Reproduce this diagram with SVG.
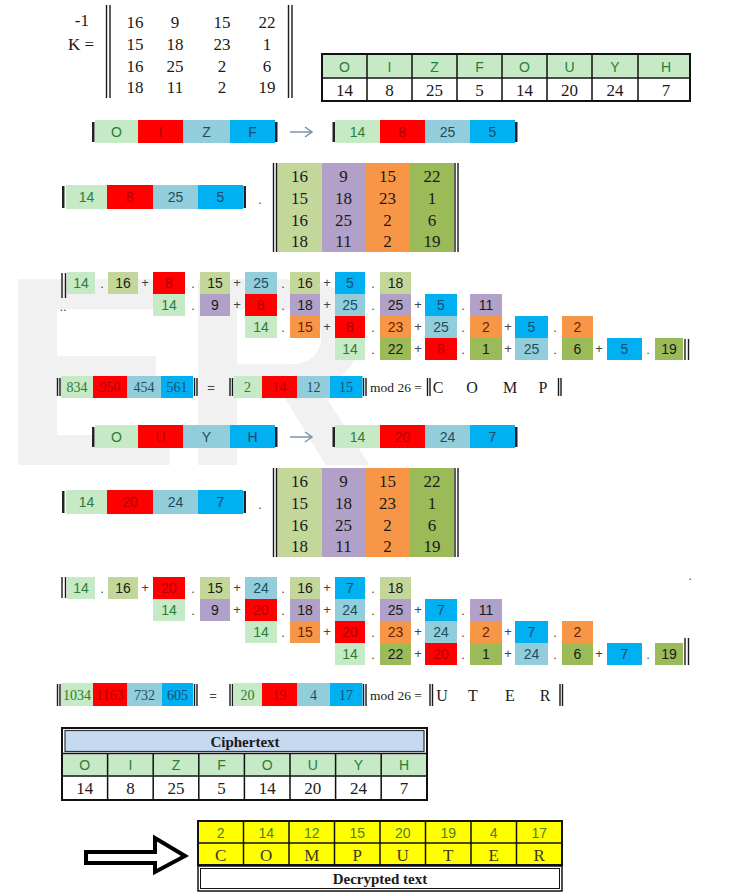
<svg xmlns="http://www.w3.org/2000/svg" width="751" height="892" viewBox="0 0 751 892">
<style>
.lg{fill:#c6e9c6}.rd{fill:#ff0000}.lb{fill:#92cddc}.bl{fill:#00b0f0}.ol{fill:#c4d79b}.pu{fill:#b1a0c7}.or{fill:#f79646}.gr{fill:#9bbb59}.yl{fill:#ffff00}
.ln{stroke:#1a1a1a;stroke-width:1.4;fill:none}
.bk{fill:#222}
text{text-anchor:middle}
.s{font-family:"Liberation Sans",Arial,sans-serif;font-size:14px}
.f{font-family:"Liberation Serif","Times New Roman",serif;font-size:17px}
.n{font-family:"Liberation Serif","Times New Roman",serif;font-size:14px}
.tg{fill:#2b7d36}.tr{fill:#b00000}.tb{fill:#1d4e5c}.td{fill:#1e4a70}.tk{fill:#1a1a1a}.to{fill:#6a1f00}
.op{font-family:"Liberation Sans",Arial,sans-serif;font-size:13px;fill:#444}
.wm{font-family:"Liberation Sans",Arial,sans-serif;font-weight:bold;font-size:270px;fill:#f1f1f1;text-anchor:start}
</style>
<text class="wm" x="0" y="465">ER</text>

<g id="matrix-k">
<text class="f tk" x="89" y="26" style="text-anchor:end">-1</text>
<text class="f tk" x="94" y="50" style="text-anchor:end">K =</text>
<path class="ln" d="M106.5,5V98M110,5V98M288.5,5V98M292,5V98"/>
<text class="f tk" x="135" y="28">16</text><text class="f tk" x="175" y="28">9</text><text class="f tk" x="222" y="28">15</text><text class="f tk" x="267" y="28">22</text>
<text class="f tk" x="135" y="50">15</text><text class="f tk" x="175" y="50">18</text><text class="f tk" x="222" y="50">23</text><text class="f tk" x="267" y="50">1</text>
<text class="f tk" x="135" y="72">16</text><text class="f tk" x="175" y="72">25</text><text class="f tk" x="222" y="72">2</text><text class="f tk" x="267" y="72">6</text>
<text class="f tk" x="135" y="93">18</text><text class="f tk" x="175" y="93">11</text><text class="f tk" x="222" y="93">2</text><text class="f tk" x="267" y="93">19</text>
</g>

<g id="table-ciphertext-top">
<rect x="322" y="54" width="368" height="47" fill="#fff" stroke="#111" stroke-width="2"/>
<rect class="lg" x="323" y="55" width="366" height="22"/>
<path d="M322,78H690M367,54V101M412,54V101M457,54V101M502,54V101M547,54V101M592,54V101M638,54V101" stroke="#111" stroke-width="1.5"/>
<text class="s tg" x="344.5" y="72">O</text><text class="s tg" x="389.5" y="72">I</text><text class="s tg" x="434.5" y="72">Z</text><text class="s tg" x="479.5" y="72">F</text><text class="s tg" x="524.5" y="72">O</text><text class="s tg" x="569.5" y="72">U</text><text class="s tg" x="615" y="72">Y</text><text class="s tg" x="666" y="72">H</text>
<text class="f tk" x="344.5" y="96">14</text><text class="f tk" x="389.5" y="96">8</text><text class="f tk" x="434.5" y="96">25</text><text class="f tk" x="479.5" y="96">5</text><text class="f tk" x="524.5" y="96">14</text><text class="f tk" x="569.5" y="96">20</text><text class="f tk" x="615" y="96">24</text><text class="f tk" x="666" y="96">7</text>
</g>

<g id="vector-oizf">
<rect class="bk" x="92" y="122" width="2.5" height="20"/>
<rect class="lg" x="95" y="120" width="43" height="23"/><rect class="rd" x="138" y="120" width="45" height="23"/><rect class="lb" x="183" y="120" width="47" height="23"/><rect class="bl" x="230" y="120" width="45" height="23"/>
<rect class="bk" x="275" y="122" width="2.5" height="20"/>
<text class="s tg" x="116.5" y="137">O</text><text class="s tr" x="160.5" y="137">I</text><text class="s tb" x="206.5" y="137">Z</text><text class="s td" x="252.5" y="137">F</text>
</g>
<g id="vector-14-8-25-5">
<rect class="bk" x="332.5" y="122" width="2.5" height="20"/>
<rect class="lg" x="335" y="120" width="45" height="23"/><rect class="rd" x="380" y="120" width="45" height="23"/><rect class="lb" x="425" y="120" width="45" height="23"/><rect class="bl" x="470" y="120" width="45" height="23"/>
<rect class="bk" x="515" y="122" width="2.5" height="20"/>
<text class="s tg" x="357.5" y="137">14</text><text class="s tr" x="402.5" y="137">8</text><text class="s tb" x="447.5" y="137">25</text><text class="s td" x="492.5" y="137">5</text>
</g>

<g id="vector-row3">
<rect class="bk" x="62" y="186" width="2.5" height="22"/>
<rect class="lg" x="66" y="185" width="41" height="24"/><rect class="rd" x="107" y="185" width="46" height="24"/><rect class="lb" x="153" y="185" width="45" height="24"/><rect class="bl" x="198" y="185" width="45" height="24"/>
<rect class="bk" x="243.5" y="186" width="2.5" height="22"/>
<text class="s tg" x="86.5" y="202">14</text><text class="s tr" x="130" y="202">8</text><text class="s tb" x="175.5" y="202">25</text><text class="s td" x="220.5" y="202">5</text>
<text class="op" x="260" y="204">.</text>
</g>
<g id="matrix-row3">
<rect class="ol" x="277" y="163" width="45" height="89"/><rect class="pu" x="322" y="163" width="43" height="89"/><rect class="or" x="365" y="163" width="45" height="89"/><rect class="gr" x="410" y="163" width="44" height="89"/>
<path class="ln" d="M273.5,163V252M276.5,163V252M455,163V252M458,163V252"/>
<text class="f tk" x="299.5" y="182">16</text><text class="f tk" x="343.5" y="182">9</text><text class="f tk" x="387.5" y="182">15</text><text class="f tk" x="432" y="182">22</text>
<text class="f tk" x="299.5" y="204">15</text><text class="f tk" x="343.5" y="204">18</text><text class="f tk" x="387.5" y="204">23</text><text class="f tk" x="432" y="204">1</text>
<text class="f tk" x="299.5" y="226">16</text><text class="f tk" x="343.5" y="226">25</text><text class="f tk" x="387.5" y="226">2</text><text class="f tk" x="432" y="226">6</text>
<text class="f tk" x="299.5" y="247">18</text><text class="f tk" x="343.5" y="247">11</text><text class="f tk" x="387.5" y="247">2</text><text class="f tk" x="432" y="247">19</text>
</g>

<g id="expansion-1">
<path class="ln" d="M62,273V298M65.5,273V298M685,339V360M688.5,339V360"/>
<text class="op" x="63" y="311">..</text>
<rect class="lg" x="67" y="272" width="28" height="22"/><text class="s tg" x="81" y="288">14</text>
<text class="op" x="102" y="288">.</text>
<rect class="ol" x="108" y="272" width="30" height="22"/><text class="s tk" x="123" y="288">16</text>
<text class="op" x="145" y="287">+</text>
<rect class="rd" x="153" y="272" width="32" height="22"/><text class="s tr" x="169" y="288">8</text>
<text class="op" x="193" y="288">.</text>
<rect class="ol" x="200" y="272" width="30" height="22"/><text class="s tk" x="215" y="288">15</text>
<text class="op" x="237" y="287">+</text>
<rect class="lb" x="245" y="272" width="32" height="22"/><text class="s tb" x="261" y="288">25</text>
<text class="op" x="283" y="288">.</text>
<rect class="ol" x="290" y="272" width="30" height="22"/><text class="s tk" x="305" y="288">16</text>
<text class="op" x="327" y="287">+</text>
<rect class="bl" x="335" y="272" width="30" height="22"/><text class="s td" x="350" y="288">5</text>
<text class="op" x="373" y="288">.</text>
<rect class="ol" x="380" y="272" width="31" height="22"/><text class="s tk" x="395.5" y="288">18</text>

<rect class="lg" x="153" y="294" width="32" height="22"/><text class="s tg" x="169" y="310">14</text>
<text class="op" x="193" y="310">.</text>
<rect class="pu" x="200" y="294" width="30" height="22"/><text class="s tk" x="215" y="310">9</text>
<text class="op" x="237" y="309">+</text>
<rect class="rd" x="245" y="294" width="32" height="22"/><text class="s tr" x="261" y="310">8</text>
<text class="op" x="283" y="310">.</text>
<rect class="pu" x="290" y="294" width="30" height="22"/><text class="s tk" x="305" y="310">18</text>
<text class="op" x="327" y="309">+</text>
<rect class="lb" x="335" y="294" width="30" height="22"/><text class="s tb" x="350" y="310">25</text>
<text class="op" x="373" y="310">.</text>
<rect class="pu" x="380" y="294" width="31" height="22"/><text class="s tk" x="395.5" y="310">25</text>
<text class="op" x="418" y="309">+</text>
<rect class="bl" x="425" y="294" width="32" height="22"/><text class="s td" x="441" y="310">5</text>
<text class="op" x="463" y="310">.</text>
<rect class="pu" x="470" y="294" width="32" height="22"/><text class="s tk" x="486" y="310">11</text>

<rect class="lg" x="245" y="316" width="32" height="22"/><text class="s tg" x="261" y="332">14</text>
<text class="op" x="283" y="332">.</text>
<rect class="or" x="290" y="316" width="30" height="22"/><text class="s to" x="305" y="332">15</text>
<text class="op" x="327" y="331">+</text>
<rect class="rd" x="335" y="316" width="30" height="22"/><text class="s tr" x="350" y="332">8</text>
<text class="op" x="373" y="332">.</text>
<rect class="or" x="380" y="316" width="31" height="22"/><text class="s to" x="395.5" y="332">23</text>
<text class="op" x="418" y="331">+</text>
<rect class="lb" x="425" y="316" width="32" height="22"/><text class="s tb" x="441" y="332">25</text>
<text class="op" x="463" y="332">.</text>
<rect class="or" x="470" y="316" width="32" height="22"/><text class="s to" x="486" y="332">2</text>
<text class="op" x="508" y="331">+</text>
<rect class="bl" x="515" y="316" width="33" height="22"/><text class="s td" x="531.5" y="332">5</text>
<text class="op" x="555" y="332">.</text>
<rect class="or" x="562" y="316" width="31" height="22"/><text class="s to" x="577.5" y="332">2</text>

<rect class="lg" x="335" y="338" width="30" height="22"/><text class="s tg" x="350" y="354">14</text>
<text class="op" x="373" y="354">.</text>
<rect class="gr" x="380" y="338" width="31" height="22"/><text class="s tk" x="395.5" y="354">22</text>
<text class="op" x="418" y="353">+</text>
<rect class="rd" x="425" y="338" width="32" height="22"/><text class="s tr" x="441" y="354">8</text>
<text class="op" x="463" y="354">.</text>
<rect class="gr" x="470" y="338" width="32" height="22"/><text class="s tk" x="486" y="354">1</text>
<text class="op" x="508" y="353">+</text>
<rect class="lb" x="515" y="338" width="33" height="22"/><text class="s tb" x="531.5" y="354">25</text>
<text class="op" x="555" y="354">.</text>
<rect class="gr" x="562" y="338" width="31" height="22"/><text class="s tk" x="577.5" y="354">6</text>
<text class="op" x="599" y="353">+</text>
<rect class="bl" x="607" y="338" width="35" height="22"/><text class="s td" x="624.5" y="354">5</text>
<text class="op" x="648" y="354">.</text>
<rect class="gr" x="655" y="338" width="28" height="22"/><text class="s tk" x="669" y="354">19</text>
</g>

<g id="result-1">
<path class="ln" d="M57.5,378V396M60,378V396M194.5,378V396M197,378V396M230,378V396M232.5,378V396M363.5,378V396M366,378V396M427.5,378V396M430,378V396M558.5,378V396M561,378V396"/>
<rect class="lg" x="61" y="376" width="32" height="22"/><rect class="rd" x="93" y="376" width="34" height="22"/><rect class="lb" x="127" y="376" width="34" height="22"/><rect class="bl" x="161" y="376" width="32" height="22"/>
<text class="n tg" x="77" y="392">834</text><text class="n tr" x="110" y="392">950</text><text class="n tb" x="144" y="392">454</text><text class="n td" x="177" y="392">561</text>
<text class="op" x="211" y="392">=</text>
<rect class="lg" x="233.5" y="376" width="28.5" height="22"/><rect class="rd" x="262" y="376" width="35" height="22"/><rect class="lb" x="297" y="376" width="33" height="22"/><rect class="bl" x="330" y="376" width="32.5" height="22"/>
<text class="n tg" x="247.5" y="392">2</text><text class="n tr" x="279.5" y="392">14</text><text class="n tb" x="313.5" y="392">12</text><text class="n td" x="346" y="392">15</text>
<text class="n tk" x="370" y="392" style="font-size:13.5px;text-anchor:start">mod 26 =</text>
<text class="f tk" x="438" y="393" style="font-size:16px">C</text><text class="f tk" x="472" y="393" style="font-size:16px">O</text><text class="f tk" x="510" y="393" style="font-size:16px">M</text><text class="f tk" x="543" y="393" style="font-size:16px">P</text>
</g>

<g id="vector-ouyh">
<rect class="bk" x="92" y="427" width="2.5" height="20"/>
<rect class="lg" x="95" y="425" width="43" height="23"/><rect class="rd" x="138" y="425" width="45" height="23"/><rect class="lb" x="183" y="425" width="47" height="23"/><rect class="bl" x="230" y="425" width="45" height="23"/>
<rect class="bk" x="275" y="427" width="2.5" height="20"/>
<text class="s tg" x="116.5" y="442">O</text><text class="s tr" x="160.5" y="442">U</text><text class="s tb" x="206.5" y="442">Y</text><text class="s td" x="252.5" y="442">H</text>
</g>
<g id="vector-14-20-24-7">
<rect class="bk" x="332.5" y="427" width="2.5" height="20"/>
<rect class="lg" x="335" y="425" width="45" height="23"/><rect class="rd" x="380" y="425" width="45" height="23"/><rect class="lb" x="425" y="425" width="45" height="23"/><rect class="bl" x="470" y="425" width="45" height="23"/>
<rect class="bk" x="515" y="427" width="2.5" height="20"/>
<text class="s tg" x="357.5" y="442">14</text><text class="s tr" x="402.5" y="442">20</text><text class="s tb" x="447.5" y="442">24</text><text class="s td" x="492.5" y="442">7</text>
</g>

<g id="connectors">
<path d="M290,132H312M305,127L312,132L305,137" stroke="#7f92ab" stroke-width="1.5" fill="none"/>
<path d="M290,437H312M305,432L312,437L305,442" stroke="#7f92ab" stroke-width="1.5" fill="none"/>
<path d="M86,852H155V838L185,856L155,872V863H86Z" fill="#fff" stroke="#000" stroke-width="4" stroke-linejoin="miter"/>
</g>

<g id="vector-row7">
<rect class="bk" x="62" y="491" width="2.5" height="22"/>
<rect class="lg" x="66" y="490" width="41" height="24"/><rect class="rd" x="107" y="490" width="46" height="24"/><rect class="lb" x="153" y="490" width="45" height="24"/><rect class="bl" x="198" y="490" width="45" height="24"/>
<rect class="bk" x="243.5" y="491" width="2.5" height="22"/>
<text class="s tg" x="86.5" y="507">14</text><text class="s tr" x="130" y="507">20</text><text class="s tb" x="175.5" y="507">24</text><text class="s td" x="220.5" y="507">7</text>
<text class="op" x="260" y="509">.</text>
</g>
<g id="matrix-row7">
<rect class="ol" x="277" y="468" width="45" height="89"/><rect class="pu" x="322" y="468" width="43" height="89"/><rect class="or" x="365" y="468" width="45" height="89"/><rect class="gr" x="410" y="468" width="44" height="89"/>
<path class="ln" d="M273.5,468V557M276.5,468V557M455,468V557M458,468V557"/>
<text class="f tk" x="299.5" y="487">16</text><text class="f tk" x="343.5" y="487">9</text><text class="f tk" x="387.5" y="487">15</text><text class="f tk" x="432" y="487">22</text>
<text class="f tk" x="299.5" y="509">15</text><text class="f tk" x="343.5" y="509">18</text><text class="f tk" x="387.5" y="509">23</text><text class="f tk" x="432" y="509">1</text>
<text class="f tk" x="299.5" y="531">16</text><text class="f tk" x="343.5" y="531">25</text><text class="f tk" x="387.5" y="531">2</text><text class="f tk" x="432" y="531">6</text>
<text class="f tk" x="299.5" y="552">18</text><text class="f tk" x="343.5" y="552">11</text><text class="f tk" x="387.5" y="552">2</text><text class="f tk" x="432" y="552">19</text>
</g>

<g id="expansion-2">
<path class="ln" d="M62,577V598M65.5,577V598M685,638V665M688.5,638V665"/>
<text class="op" x="690" y="580">.</text>
<rect class="lg" x="67" y="577" width="28" height="22"/><text class="s tg" x="81" y="593">14</text>
<text class="op" x="102" y="593">.</text>
<rect class="ol" x="108" y="577" width="30" height="22"/><text class="s tk" x="123" y="593">16</text>
<text class="op" x="145" y="592">+</text>
<rect class="rd" x="153" y="577" width="32" height="22"/><text class="s tr" x="169" y="593">20</text>
<text class="op" x="193" y="593">.</text>
<rect class="ol" x="200" y="577" width="30" height="22"/><text class="s tk" x="215" y="593">15</text>
<text class="op" x="237" y="592">+</text>
<rect class="lb" x="245" y="577" width="32" height="22"/><text class="s tb" x="261" y="593">24</text>
<text class="op" x="283" y="593">.</text>
<rect class="ol" x="290" y="577" width="30" height="22"/><text class="s tk" x="305" y="593">16</text>
<text class="op" x="327" y="592">+</text>
<rect class="bl" x="335" y="577" width="30" height="22"/><text class="s td" x="350" y="593">7</text>
<text class="op" x="373" y="593">.</text>
<rect class="ol" x="380" y="577" width="31" height="22"/><text class="s tk" x="395.5" y="593">18</text>

<rect class="lg" x="153" y="599" width="32" height="22"/><text class="s tg" x="169" y="615">14</text>
<text class="op" x="193" y="615">.</text>
<rect class="pu" x="200" y="599" width="30" height="22"/><text class="s tk" x="215" y="615">9</text>
<text class="op" x="237" y="614">+</text>
<rect class="rd" x="245" y="599" width="32" height="22"/><text class="s tr" x="261" y="615">20</text>
<text class="op" x="283" y="615">.</text>
<rect class="pu" x="290" y="599" width="30" height="22"/><text class="s tk" x="305" y="615">18</text>
<text class="op" x="327" y="614">+</text>
<rect class="lb" x="335" y="599" width="30" height="22"/><text class="s tb" x="350" y="615">24</text>
<text class="op" x="373" y="615">.</text>
<rect class="pu" x="380" y="599" width="31" height="22"/><text class="s tk" x="395.5" y="615">25</text>
<text class="op" x="418" y="614">+</text>
<rect class="bl" x="425" y="599" width="32" height="22"/><text class="s td" x="441" y="615">7</text>
<text class="op" x="463" y="615">.</text>
<rect class="pu" x="470" y="599" width="32" height="22"/><text class="s tk" x="486" y="615">11</text>

<rect class="lg" x="245" y="621" width="32" height="22"/><text class="s tg" x="261" y="637">14</text>
<text class="op" x="283" y="637">.</text>
<rect class="or" x="290" y="621" width="30" height="22"/><text class="s to" x="305" y="637">15</text>
<text class="op" x="327" y="636">+</text>
<rect class="rd" x="335" y="621" width="30" height="22"/><text class="s tr" x="350" y="637">20</text>
<text class="op" x="373" y="637">.</text>
<rect class="or" x="380" y="621" width="31" height="22"/><text class="s to" x="395.5" y="637">23</text>
<text class="op" x="418" y="636">+</text>
<rect class="lb" x="425" y="621" width="32" height="22"/><text class="s tb" x="441" y="637">24</text>
<text class="op" x="463" y="637">.</text>
<rect class="or" x="470" y="621" width="32" height="22"/><text class="s to" x="486" y="637">2</text>
<text class="op" x="508" y="636">+</text>
<rect class="bl" x="515" y="621" width="33" height="22"/><text class="s td" x="531.5" y="637">7</text>
<text class="op" x="555" y="637">.</text>
<rect class="or" x="562" y="621" width="31" height="22"/><text class="s to" x="577.5" y="637">2</text>

<rect class="lg" x="335" y="643" width="30" height="22"/><text class="s tg" x="350" y="659">14</text>
<text class="op" x="373" y="659">.</text>
<rect class="gr" x="380" y="643" width="31" height="22"/><text class="s tk" x="395.5" y="659">22</text>
<text class="op" x="418" y="658">+</text>
<rect class="rd" x="425" y="643" width="32" height="22"/><text class="s tr" x="441" y="659">20</text>
<text class="op" x="463" y="659">.</text>
<rect class="gr" x="470" y="643" width="32" height="22"/><text class="s tk" x="486" y="659">1</text>
<text class="op" x="508" y="658">+</text>
<rect class="lb" x="515" y="643" width="33" height="22"/><text class="s tb" x="531.5" y="659">24</text>
<text class="op" x="555" y="659">.</text>
<rect class="gr" x="562" y="643" width="31" height="22"/><text class="s tk" x="577.5" y="659">6</text>
<text class="op" x="599" y="658">+</text>
<rect class="bl" x="607" y="643" width="35" height="22"/><text class="s td" x="624.5" y="659">7</text>
<text class="op" x="648" y="659">.</text>
<rect class="gr" x="655" y="643" width="28" height="22"/><text class="s tk" x="669" y="659">19</text>
</g>

<g id="result-2">
<path class="ln" d="M57.5,684V706M60,684V706M194.5,684V706M197,684V706M230,684V706M232.5,684V706M363.5,684V706M366,684V706M430,684V706M432.5,684V706M560,684V706M562.5,684V706"/>
<rect class="lg" x="61" y="683" width="32" height="23"/><rect class="rd" x="93" y="683" width="34" height="23"/><rect class="lb" x="127" y="683" width="35" height="23"/><rect class="bl" x="162" y="683" width="31" height="23"/>
<text class="n tg" x="77" y="700">1034</text><text class="n tr" x="110" y="700">1163</text><text class="n tb" x="144.5" y="700">732</text><text class="n td" x="177.5" y="700">605</text>
<text class="op" x="213" y="700">=</text>
<rect class="lg" x="233.5" y="683" width="28.5" height="23"/><rect class="rd" x="262" y="683" width="35" height="23"/><rect class="lb" x="297" y="683" width="33" height="23"/><rect class="bl" x="330" y="683" width="32.5" height="23"/>
<text class="n tg" x="247.5" y="700">20</text><text class="n tr" x="279.5" y="700">19</text><text class="n tb" x="313.5" y="700">4</text><text class="n td" x="346" y="700">17</text>
<text class="n tk" x="370" y="700" style="font-size:13.5px;text-anchor:start">mod 26 =</text>
<text class="f tk" x="442" y="701" style="font-size:16px">U</text><text class="f tk" x="473" y="701" style="font-size:16px">T</text><text class="f tk" x="510" y="701" style="font-size:16px">E</text><text class="f tk" x="545" y="701" style="font-size:16px">R</text>
</g>

<g id="table-ciphertext">
<rect x="62" y="728" width="365" height="72" fill="#fff" stroke="#111" stroke-width="2"/>
<rect x="65" y="730.5" width="359" height="21" fill="#c5d9f1" stroke="#333" stroke-width="1.2"/>
<rect class="lg" x="63" y="754.5" width="363" height="21"/>
<path d="M62,753.5H427M62,776H427M107.6,753.5V800M153.2,753.5V800M198.8,753.5V800M244.4,753.5V800M290,753.5V800M335.6,753.5V800M381.2,753.5V800" stroke="#111" stroke-width="1.5"/>
<text class="f tk" x="245" y="747" style="font-size:15px;font-weight:bold">Ciphertext</text>
<text class="s tg" x="84.8" y="770">O</text><text class="s tg" x="130.4" y="770">I</text><text class="s tg" x="176" y="770">Z</text><text class="s tg" x="221.6" y="770">F</text><text class="s tg" x="267.2" y="770">O</text><text class="s tg" x="312.8" y="770">U</text><text class="s tg" x="358.4" y="770">Y</text><text class="s tg" x="404" y="770">H</text>
<text class="f tk" x="84.8" y="794">14</text><text class="f tk" x="130.4" y="794">8</text><text class="f tk" x="176" y="794">25</text><text class="f tk" x="221.6" y="794">5</text><text class="f tk" x="267.2" y="794">14</text><text class="f tk" x="312.8" y="794">20</text><text class="f tk" x="358.4" y="794">24</text><text class="f tk" x="404" y="794">7</text>
</g>

<g id="table-decrypted">
<rect class="yl" x="198" y="821" width="364" height="44" stroke="#111" stroke-width="2"/>
<path d="M198,843H562M243.5,821V865M289,821V865M334.5,821V865M380,821V865M425.5,821V865M471,821V865M516.5,821V865" stroke="#111" stroke-width="1.5"/>
<text class="s" x="220.75" y="838" fill="#4a7f2a">2</text><text class="s" x="266.25" y="838" fill="#4a7f2a">14</text><text class="s" x="311.75" y="838" fill="#4a7f2a">12</text><text class="s" x="357.25" y="838" fill="#4a7f2a">15</text><text class="s" x="402.75" y="838" fill="#4a7f2a">20</text><text class="s" x="448.25" y="838" fill="#4a7f2a">19</text><text class="s" x="493.75" y="838" fill="#4a7f2a">4</text><text class="s" x="539.25" y="838" fill="#4a7f2a">17</text>
<text class="f" x="220.75" y="861" fill="#3a3a1a">C</text><text class="f" x="266.25" y="861" fill="#3a3a1a">O</text><text class="f" x="311.75" y="861" fill="#3a3a1a">M</text><text class="f" x="357.25" y="861" fill="#3a3a1a">P</text><text class="f" x="402.75" y="861" fill="#3a3a1a">U</text><text class="f" x="448.25" y="861" fill="#3a3a1a">T</text><text class="f" x="493.75" y="861" fill="#3a3a1a">E</text><text class="f" x="539.25" y="861" fill="#3a3a1a">R</text>
<rect x="198" y="866" width="364" height="25" fill="#fff" stroke="#111" stroke-width="1.5"/>
<rect x="200.5" y="868.5" width="359" height="20" fill="none" stroke="#111" stroke-width="1"/>
<text class="f tk" x="380" y="884" style="font-size:15px;font-weight:bold">Decrypted text</text>
</g>
</svg>
